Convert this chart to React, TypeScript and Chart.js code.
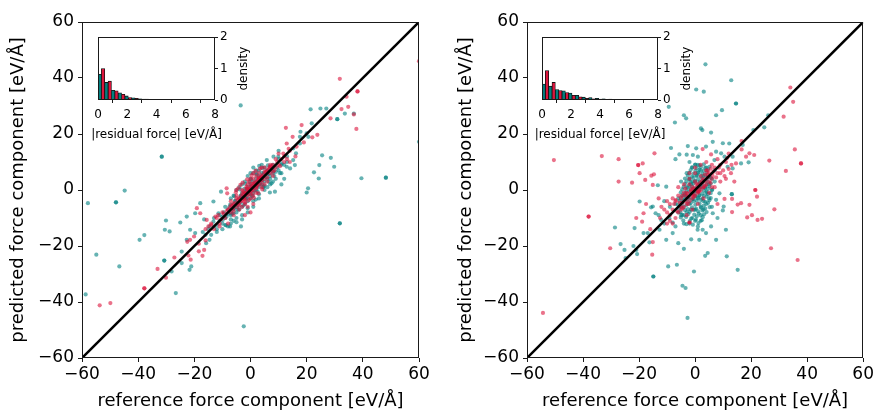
import { useEffect, useRef } from 'react';
import { Chart, registerables } from 'chart.js';

Chart.register(...registerables);

// ---------------- data ----------------
const axisTicks = [-60, -40, -20, 0, 20, 40, 60];
const xTitle = 'reference force component [eV/Å]';
const yTitle = 'predicted force component [eV/Å]';
const insetXTitle = '|residual force| [eV/Å]';
const insetYTitle = 'density';

// left panel, teal series
const leftTeal: [number, number][] = [
  [-31.6, 11.9], [-31.6, 11.9], [-57.9, -4.7], [-47.9, -4.4], [-47.9, -4.4], [-44.8, -0.2],
  [-54.9, -23.1], [-46.7, -27.3], [-58.7, -37.3], [-39.5, -17.8], [-37.8, -16.1], [-30.1, -10.9],
  [-30.5, -14.2], [-28.8, -14.8], [-30.7, -25.2], [-30.7, -25.2], [-26.6, -36.8], [-28.1, -29.1],
  [-24.5, -26.1], [-25, -11.6], [-3.5, 30.2], [-2.4, -48.7], [48.2, 4.4], [48.2, 4.4],
  [31.8, -11.9], [31.8, -11.9], [39.5, 4.2], [28.6, 11.5], [29.8, 8.3], [25.5, 12.4],
  [24.5, 8.9], [22.6, 6.3], [24.3, 4.1], [20.5, 0.6], [20, -0.9], [30.9, 25.3], [30.9, 25.3],
  [33.6, 27.3], [36.8, 27.3], [21.4, 28.8], [24.9, 29.1], [27, 29.1], [16.2, 13.1], [15.8, 8.9],
  [17.8, 20.8], [17.6, 19], [20, 20.2], [20.6, 19], [60, 17.2], [21.8, 23.8],
  [-19.7, -8.3], [-17.9, -4.7], [-14.6, -13], [-13.2, -11.3], [-11.4, -8.3], [-9.9, -10.7],
  [-8.7, -12.6], [-7.3, -13], [-6.1, -8.3], [-3.4, -13], [-14.6, -17.8], [-15.8, -19],
  [-22.7, -17.8], [-21.1, -27.3], [-21.7, -28.5], [-24.5, -22], [-21.5, -14.2], [-19.7, -15.4],
  [-22.7, -9.5], [-13.2, -4.1], [-10.5, -0.6], [-16.5, -10.5], [-12, -15], [-10, -14],
  [5.8, 10.7], [8.2, 11.9], [9.9, 11.9], [11.1, 9.5], [12.9, 8.3], [14.1, 7.7], [8.2, 6.6],
  [10.5, 6], [7.5, 2.4], [6.9, -0.9], [4.6, 1.2], [8.7, -0.6], [15.2, 10.7], [17.6, 16.6],
  [15.2, 14.9], [2.2, 5.4], [12, 4], [11, 2], [13, 12], [10, 14],
  [-9, -10], [-8, -7], [-7, -9], [-6, -5], [-5, -8], [-4, -3], [-3, -6], [-2, -1], [-1, -4],
  [0, 2], [1, -1], [2, 4], [3, 1], [4, 6], [5, 3], [6, 7], [7, 5], [8, 9], [-10, -12],
  [-11, -9], [-6, -11], [-4, -7], [-2, -5], [0, -3], [2, 0], [4, 2], [6, 4], [8, 6],
  [-3, 2], [-1, 5], [1, 6], [3, 7], [-5, 0], [-7, -3], [0, 4], [2, 7], [4, 9], [5, 8],
  [-8, -13], [-12, -14], [-13, -10], [-14, -16], [-3, -9], [-1, -8], [1, -6], [3, -3],
  [5, 0], [7, 2], [9, 4], [10, 7], [11, 9], [-2, 3], [-4, 1], [-6, -2], [1, 3], [3, 5],
  [-0.5, -1.5], [0.5, 0.5], [1.5, 2.5], [-1.5, -0.5], [2.5, 1.5], [-2.5, -2.5], [3.5, 4.5],
  [-3.5, -4.5], [4.5, 5.5], [-4.5, -5.5], [0, 6], [1, 8], [-1, 1], [-3, -1], [6, 1], [8, 3],
  [-9, -6], [-7, -12], [-5, -10], [-1.2, -2.7], [0.8, -2.2], [2.7, 2.8], [-2.2, 0.4],
  [4.2, 3.6], [-5.4, -3.8], [6.6, 5.8], [-6.8, -7.1], [1.9, -3.4], [-0.3, 2.9], [3.1, 8.6],
  [-9.5, -8], [-8.5, -9.5], [-7.5, -6], [-6.5, -8.5], [-5.5, -4], [-4.5, -7], [-3.5, -2],
  [-2.5, -5.5], [-1.5, -3], [-0.5, 0], [0.5, -2], [1.5, 1], [2.5, -0.5], [3.5, 2.5], [4.5, 1],
  [5.5, 4.5], [6.5, 3], [7.5, 7], [8.5, 5], [9.5, 8], [-9, -12.5], [-7, -10.5], [-5, -11.5],
  [-3, -10.5], [-1, -6.5], [1, -4], [3, -1.5], [5, 1.5], [7, 4], [9, 6.5], [11, 6], [12, 9],
  [13, 10], [10, 11], [-6, -6.5], [-4, -4.5], [-2, -2.5], [0, -0.5], [2, 1.5], [4, 3.5],
  [6, 5.5], [8, 7.5], [-8, -8.5], [-10, -9.5], [-5.8, -2.2], [-3.8, 0.2], [-1.8, 2.2],
  [0.2, 3.8], [2.2, 5.8], [4.2, 7.8], [6.2, 8.8], [-7.2, -5.2], [-11, -11], [-12, -12.5],
  [-13, -13], [-15, -14], [-16, -16], [-17, -15], [0.7, 0.9], [-0.9, -0.7], [1.3, -0.2],
  [-1.3, 0.2], [0.2, 1.4], [-0.2, -1.4], [2.1, 2.9], [-2.1, -2.9], [3.3, 2.1], [-3.3, -2.1],
  [4.8, 6.2], [-4.8, -6.2], [5.9, 6.8], [-5.9, -6.8], [7.1, 8.4], [-7.1, -8.4],
];

// left panel, red series
const leftRed: [number, number][] = [
  [31.8, 39.7], [38.1, 35.2], [38.1, 35.2], [34.2, 33.3], [36.8, 27], [37.7, 21.8], [34.8, 29.7],
  [28.5, 25.6], [32.4, 28.9], [22, 18.8], [23.8, 19.7], [12.6, 22.2], [18.2, 23.2], [12.9, 16.6],
  [13.6, 14.7], [11.7, 13], [16.4, 15.5], [60, 46], [-53.7, -41.2], [-49.9, -40.4], [-37.8, -35.1],
  [-37.8, -35.1], [-33.1, -28.2], [-30.1, -31.3], [-27.1, -24.1], [-22.1, -23.4], [-21.3, -24.9],
  [-21.5, -17.8], [-20.1, -16.6], [-18.4, -19.2], [-17.1, -23.5], [-18.4, -21.9], [-16.5, -21.4],
  [-19.1, -6.5], [-17.9, -8.3], [-15.6, -10.7], [-8.5, 0.6], [-8.3, -1.2], [-5.1, 0],
  [-22.5, -18.5], [-14, -12.5], [-12.5, -9.5], [-11, -13], [-16, -14], [14, 10], [16, 12],
  [19, 17], [15, 19], [10, 13],
  [-8, -7], [-7, -8], [-6, -5], [-5, -6], [-4, -3], [-3, -4], [-2, -1], [-1, -2], [0, 1],
  [1, 0], [2, 3], [3, 2], [4, 5], [5, 4], [6, 7], [7, 6], [8, 9], [9, 8], [-6, -9], [-4, -7],
  [-2, -5], [0, -3], [2, -1], [4, 1], [6, 3], [-5, -2], [-3, 0], [-1, 2], [1, 4], [3, 6],
  [5, 8], [-9, -10], [-10, -8], [-11, -12], [-12, -10], [-13, -14], [-14, -12], [-1, -6],
  [1, -5], [0, -8], [-2, -9], [2, 5], [4, 8], [7, 9], [10, 9], [11, 11], [12, 12],
  [-1.5, 0.5], [0.5, -0.5], [1.5, 1.5], [2.5, 2.5], [-2.5, -1.5], [3.5, 3.5], [0, 4],
  [-0.5, 3], [1, 6], [-3, -6], [5, 2], [8, 5], [9, 11], [-7, -4], [-15, -13], [-16, -18],
  [-8, -12], [-0.8, -0.3], [0.3, 2.2], [2.2, 1.1], [-2.1, -3.2], [3.8, 4.6], [-4.3, -4.9],
  [5.6, 6.3], [6.8, 8.2], [-6.2, -6.6], [0.9, -1.8], [-1.4, 1.2], [2.9, 4.1],
  [-8.5, -7.5], [-7.5, -6.5], [-6.5, -5.5], [-5.5, -4.5], [-4.5, -3.5], [-3.5, -2.5],
  [-2.5, -0.5], [-1.5, -1.5], [-0.5, 0.5], [0.5, 1.5], [1.5, 2.5], [2.5, 3.5], [3.5, 4.5],
  [4.5, 5.5], [5.5, 6.5], [6.5, 7.5], [7.5, 8.5], [8.5, 7], [-7, -5.5], [-5, -3], [-3, -1.5],
  [-1, 0.5], [1, 2.5], [3, 4.5], [5, 6.5], [7, 8], [-6, -7.5], [-4, -5.5], [-2, -3.5],
  [0, -1.5], [2, 0.5], [4, 2.5], [6, 4.5], [8, 6.5], [-1.2, 3.8], [0.4, 5.2], [-3.6, 1.8],
  [-5.2, -0.8], [-2.8, 2.6], [1.8, 6.8], [3.4, 7.6], [-4.4, 0.6], [-0.6, -3.6], [1.2, -2.8],
  [2.8, -1.2], [-1.8, -4.4], [4.2, 0.2], [0.1, 0.1], [-0.3, -0.7], [0.9, 0.6], [-0.8, -0.2],
  [1.4, 1.9], [-1.6, -1.1], [2.3, 1.7], [-2.3, -2.6], [3.1, 3.9], [-3.2, -3.7], [4.1, 3.6],
  [-4.1, -4.4], [-9.5, -8.5], [-10.5, -10.5], [-11.5, -9], [9.5, 10], [10.5, 8.5], [13, 11],
  [14, 14], [12, 10],
];

// right panel, teal series
const rightTeal: [number, number][] = [
  [3.7, 44.9], [12.9, 39.2], [14.6, 30.9], [14.6, 30.9], [0.4, 35.9], [3.1, 35.1], [-9.4, 29.7],
  [-4, 26.7], [-3.2, 25.6], [-7.2, 24.1], [7.5, 26.7], [9.6, 28.5], [2.1, 22], [2.6, 21.4],
  [5.7, 20.5], [9.9, 16.7], [-8.6, 15], [-2.6, 15.7], [-3, 12.6], [-7, 11], [-5.6, 12.7],
  [17, 16.1], [24.7, 22.4], [20.8, 21.4], [19.1, 9.9], [26.1, 26.7], [-28.6, -13.4],
  [-26.6, -19.3], [-21.6, -13.6], [-24.8, -24.3], [-21, -21.4], [-20.7, -22.9], [-16.3, -18.7],
  [-14.9, -30.9], [-14.9, -30.9], [-9.6, -27.3], [-6.5, -26.7], [-4.5, -34.2], [-3.4, -35],
  [-2.7, -45.7], [-0.4, -29.1], [3.6, -23.5], [4.5, -22.5], [11.3, -23.7], [15.2, -28.5],
  [7.5, -17.8], [11, -14.2], [9.9, -7.3], [13.1, -1.5], [13.1, -1.5], [-13.3, 1.7], [-10.3, 1.2],
  [1.5, -17.8], [-1.4, -17.6], [0.9, -14.2], [-15.1, -5.9], [-14.1, -8.3], [-12.1, -10.7],
  [-19.8, -4.1], [-15.7, -6.2], [-18.4, -15.4], [-16.9, -15.4], [-12.7, -14.2], [-9.2, -10.1],
  [-10.3, -17.8], [-8, -11.6], [-8, -15.4], [7.5, -3.5], [8.7, -1.2], [10.2, -5.9], [6.3, -8.3],
  [5.7, -13], [3.9, -15.4], [2.7, -14.2], [7.5, 13.7], [9.3, 13.1], [10.5, 11.9], [6.9, 10.7],
  [5.1, 8.3], [11.6, 8.3], [13.4, 7.7], [0.4, 14.9], [-0.8, 12.5], [1, 11.9], [3.9, 15.5],
  [6.3, 17.2], [12.2, 16.6], [13.4, 11.9], [16.4, 9.5], [-25.2, -21.4], [-22, -20],
  [-11, -12], [-13, -9], [-9, -6], [-7, -13], [-11, -4], [-6, -19], [-4, -21], [8, -10],
  [-4, -2], [-3, -8], [-2, -5], [-1, -10], [0, -7], [1, -3], [2, -9], [3, -4], [4, -1],
  [-5, -6], [-4, -9], [-3, 1], [-2, 4], [-1, -1], [0, 3], [1, 6], [2, 1], [3, 5], [4, 8],
  [5, 2], [-6, -3], [-5, 3], [-3, 6], [-1, 8], [1, 9], [2, 7], [3, -7], [5, -3], [6, 4],
  [-2, -12], [0, -11], [1, -13], [-4, -12], [-5, -9], [2, -6], [4, -5], [6, 0], [7, 3],
  [-0.5, 0.5], [0.5, -0.5], [-1.5, 2], [1.5, -2], [-2.5, -3], [2.5, 3], [-0.5, -4],
  [0.5, 5], [-1.5, -7], [1.5, 2.5], [-3.5, -1.5], [3.5, 1], [-4.5, -4], [4.5, 4.5],
  [-2, 10], [0, 9], [2, -11], [-6, -8], [6, -6], [-7, -5], [7, 7], [0, -2], [-1, 3],
  [-3.1, -12.2], [-0.8, -12.4], [1.2, -11.8], [-4.2, -10.9], [-1.9, -11.1], [0.3, -10.6],
  [2.4, -10.8], [-5.1, -9.8], [-3.2, -9.6], [-1.4, -10.2], [0.6, -9.4], [2.7, -9.7],
  [-4.6, -8.9], [-2.4, -8.6], [-0.3, -8.8], [1.3, -8.4], [3.2, -8.7], [-5.2, -7.9],
  [-3.6, -7.2], [-1.9, -7.8], [-0.4, -7.1], [1.1, -7.6], [2.6, -7.3], [4.1, -7.9],
  [-5.7, -6.6], [-4.1, -6.1], [-2.6, -6.8], [-1.1, -6.2], [0.4, -6.7], [2.1, -6.3],
  [3.6, -6.6], [5.2, -6.1], [-6.1, -5.2], [-4.6, -4.8], [-3.1, -5.4], [-1.6, -4.7],
  [0.1, -5.3], [1.6, -4.9], [3.1, -5.6], [4.6, -4.6], [-5.6, -3.9], [-4.1, -3.6],
  [-2.6, -4.1], [-1.1, -3.4], [0.6, -3.9], [2.1, -3.5], [3.6, -4.2], [5.1, -3.7],
  [-5.1, -2.8], [-3.6, -3.1], [-2.1, -2.6], [-0.6, -3.2], [1.1, -2.7], [2.6, -3.1],
  [4.1, -2.4], [5.6, -2.9], [-4.6, -1.9], [-3.1, -2.2], [-1.6, -1.6], [0.1, -2.3],
  [1.6, -1.8], [3.1, -2.1], [4.6, -1.5], [-5.1, -0.8], [-3.6, -1.1], [-2.1, -0.6],
  [-0.6, -1.2], [1.1, -0.7], [2.6, -1.3], [4.1, -0.6], [5.6, -1.1], [-4.6, 0.2],
  [-3.1, -0.2], [-1.6, 0.4], [0.1, -0.3], [1.6, 0.3], [3.1, -0.1], [4.6, 0.4], [6.1, 0.1],
  [-4.1, 1.1], [-2.6, 0.8], [-1.1, 1.3], [0.6, 0.9], [2.1, 1.2], [3.6, 0.7], [5.1, 1.3],
  [-3.6, 2.2], [-2.1, 1.8], [-0.6, 2.3], [1.1, 1.7], [2.6, 2.2], [4.1, 1.9], [5.6, 2.4],
  [-3.1, 3.1], [-1.6, 2.8], [0.1, 3.3], [1.6, 2.9], [3.1, 3.2], [4.6, 2.8], [-3.6, 4.1],
  [-2.1, 3.8], [-0.6, 4.3], [1.1, 3.9], [2.6, 4.2], [4.1, 3.8], [5.6, 4.3], [-2.6, 5.1],
  [-1.1, 4.8], [0.6, 5.3], [2.1, 4.9], [3.6, 5.2], [5.1, 4.8], [-2.1, 6.1], [-0.6, 5.8],
  [1.1, 6.3], [2.6, 5.9], [4.1, 6.2], [-1.6, 7.1], [0.1, 6.8], [1.6, 7.2], [3.1, 6.9],
  [4.6, 7.3], [-1.1, 8.1], [0.6, 7.8], [2.1, 8.2], [3.6, 7.9], [0.1, 9.1], [1.6, 8.8],
  [3.1, 9.2],
];

// right panel, red series
const rightRed: [number, number][] = [
  [-54.3, -43.9], [-50.4, 10.7], [-33.3, 12.1], [-27.3, 11], [-27.3, 3], [-38, -9.5], [-38, -9.5],
  [-30.3, -20.8], [-22.5, 2.6], [-20.3, 8.9], [-20.3, 8.9], [-19.8, 6], [-17.8, 3.6], [-18.7, 9.5],
  [-15.6, 5.1], [-14.7, 5.6], [-14.5, 13.1], [-15.1, 1.8], [-18.9, -11.3], [-18.4, -8.3],
  [-17.5, -5], [-15.3, -23.1], [-15.1, -18.6], [34, 36.6], [35, 31.5], [31.6, 26.2],
  [32.4, 6.8], [35.6, 14.5], [37.8, 9.5], [37.8, 9.5], [36.6, -25], [26.5, 10.5], [28.3, -6.9],
  [27.1, -20.8], [21.5, 0], [21.5, 0], [22.1, -2.4], [20.3, -9], [18.6, -9.8], [22.3, -10.7],
  [23.9, -10.3], [19.4, -5.3], [16.4, -4.7], [15.2, -5.2], [13.2, -7.9], [13.2, -3.2],
  [10.5, -3.2], [16.6, 14.5], [19.4, 13.1], [21.1, 12.5], [14.6, 9.5], [12.8, 6], [18.2, 11.9],
  [16.6, 17.5], [2.7, 14.6], [5.7, 12.7], [-2, -11.6], [-2, -11.6], [-12, -6], [-10, -8],
  [-13, -3], [-21, -10], [-16, -14], [-9, -11], [11, 4], [9, 6], [14, 3], [8, -5],
  [-8, -7], [-7, -4], [-6, -8], [-5, -3], [-4, -6], [-3, -1], [-2, -4], [-1, 1], [0, -2],
  [1, 2], [2, 0], [3, 4], [4, 2], [5, 6], [6, 4], [7, 8], [8, 6], [-6, -2], [-4, -1],
  [-2, 2], [0, 3], [2, 5], [4, 7], [-5, -7], [-3, -5], [-1, -3], [1, -1], [3, 1], [5, 3],
  [-9, -5], [-7, -10], [9, 9], [10, 7], [6, 9], [-1.5, -0.5], [0.5, 0.5], [1.5, 1], [-0.5, -1.5],
  [2.5, 2.5], [-2.5, -2.5], [-3.5, 0.5], [3.5, 5.5], [-4.5, -4.5], [4.5, 4.5], [0, 6],
  [-2, 4], [6, 1], [-8, -12], [-10, -4], [11, 10], [12, 13], [-0.8, 0.2], [1.2, -0.4],
  [-7.5, -5], [-6.5, -7.5], [-5.5, -4.5], [-4.5, -6.5], [-3.5, -2], [-2.5, -5], [-1.5, 0],
  [-0.5, -2.5], [0.5, 2], [1.5, -0.5], [2.5, 3.5], [3.5, 1.5], [4.5, 5.5], [5.5, 2.5],
  [6.5, 6.5], [7.5, 4.5], [8.5, 8], [-6, 1], [-4, 2], [-2, 6], [0, 8], [2, 9], [4, 10],
  [-8, -3], [-9, -9], [-3, -9], [-1, -7], [1, -5], [3, -3], [5, -1], [7, 1], [9, 3],
  [-0.2, 0.7], [0.8, -0.6], [-1.1, -1.9], [1.9, 2.6], [-2.7, -1.3], [2.9, 0.9], [-3.3, -3.9],
  [3.7, 3.2], [-4.6, -2.1], [4.4, 6.9], [-5.4, -5.8], [5.6, 7.6], [6.2, 5.1], [-6.9, -3.6],
  [10.5, 5], [12, 7.5], [-11, -7], [-12.5, -10], [8, 11], [-10, -12], [11.5, 11.5], [13, 9],
];

// inset histograms (bin centres in eV/Å, densities)
const binCenters = [0.23, 0.69, 1.15, 1.61, 2.07, 2.53, 2.99, 3.45, 3.91, 4.37, 4.83, 5.29, 5.75, 6.21, 6.67, 7.13, 7.59];
const leftTealHist = [0.82, 0.56, 0.31, 0.23, 0.13, 0.07, 0.04, 0.03, 0.02, 0.015, 0.012, 0.01, 0.008, 0.007, 0.006, 0.005, 0.005];
const leftRedHist = [1.0, 0.6, 0.29, 0.18, 0.08, 0.05, 0.03, 0.02, 0.015, 0.01, 0.008, 0.006, 0.005, 0.004, 0.004, 0.003, 0.003];
const rightTealHist = [0.51, 0.44, 0.33, 0.29, 0.22, 0.15, 0.09, 0.08, 0.05, 0.04, 0.03, 0.025, 0.02, 0.02, 0.015, 0.015, 0.01];
const rightRedHist = [0.94, 0.56, 0.3, 0.24, 0.15, 0.1, 0.05, 0.04, 0.03, 0.02, 0.015, 0.012, 0.01, 0.008, 0.006, 0.005, 0.004];

// ---------------- styling ----------------
const FONT = 'DejaVu Sans';
const TEAL_PT = 'rgba(0,128,128,0.6)';
const RED_PT = 'rgba(220,20,60,0.6)';
const TEAL = '#008080';
const RED = '#dc143c';
const INK = '#1a1a1a';

const minusFmt = (v: any) => String(v).replace('-', '\u2212');

const boxPlugin = {
  id: 'boxFrame',
  beforeDraw(chart: any, _a: any, opts: any) {
    if (!opts || !opts.white) return;
    const { ctx, chartArea: c } = chart;
    ctx.save();
    ctx.fillStyle = '#ffffff';
    ctx.fillRect(c.left, c.top, c.right - c.left, c.bottom - c.top);
    ctx.restore();
  },
  afterDraw(chart: any, _a: any, opts: any) {
    const { ctx, chartArea: c } = chart;
    ctx.save();
    ctx.strokeStyle = INK;
    ctx.lineWidth = 1;
    const l = Math.round(c.left) + 0.5;
    const t = Math.round(c.top) + 0.5;
    const r = Math.round(c.right) - 0.5;
    const b = Math.round(c.bottom) - 0.5;
    ctx.strokeRect(l, t, r - l, b - t);
    if (opts && opts.xLabel) {
      ctx.fillStyle = '#000';
      ctx.font = `12px "${FONT}"`;
      ctx.textAlign = 'center';
      ctx.textBaseline = 'middle';
      ctx.fillText(opts.xLabel, (c.left + c.right) / 2, c.bottom + 35);
    }
    if (opts && opts.yLabel) {
      ctx.save();
      ctx.translate(c.right + 28.5, (c.top + c.bottom) / 2);
      ctx.rotate(-Math.PI / 2);
      ctx.fillStyle = '#000';
      ctx.font = `12px "${FONT}"`;
      ctx.textAlign = 'center';
      ctx.textBaseline = 'middle';
      ctx.fillText(opts.yLabel, 0, 0);
      ctx.restore();
    }
    ctx.restore();
  },
};

function mainConfig(teal: [number, number][], red: [number, number][], yW: number, padR: number, yTitlePad: number): any {
  return {
    type: 'scatter',
    data: {
      datasets: [
        {
          type: 'line',
          data: [{ x: -60, y: -60 }, { x: 60, y: 60 }],
          borderColor: '#000',
          borderWidth: 2.5,
          pointRadius: 0,
          order: 0,
        },
        {
          data: red.map(([x, y]) => ({ x, y })),
          backgroundColor: RED_PT,
          borderWidth: 0,
          pointRadius: 2.1,
          order: 1,
        },
        {
          data: teal.map(([x, y]) => ({ x, y })),
          backgroundColor: TEAL_PT,
          borderWidth: 0,
          pointRadius: 2.1,
          order: 2,
        },
      ],
    },
    options: {
      animation: false,
      responsive: false,
      events: [],
      layout: { padding: { left: 0, right: padR, top: 22, bottom: 0 } },
      plugins: { legend: { display: false }, tooltip: { enabled: false }, boxFrame: { white: false } },
      scales: {
        x: {
          type: 'linear',
          min: -60,
          max: 60,
          afterBuildTicks: (s: any) => { s.ticks = axisTicks.map((v) => ({ value: v })); },
          afterFit: (s: any) => { s.height = 52; },
          border: { display: false },
          grid: { drawOnChartArea: false, drawTicks: true, tickLength: 4, color: INK, tickWidth: 1 },
          ticks: { color: '#000', font: { family: FONT, size: 17 }, padding: 2, maxRotation: 0, callback: minusFmt },
          title: { display: true, text: xTitle, color: '#000', font: { family: FONT, size: 18, lineHeight: 1.0 }, padding: { top: 0, bottom: 0 } },
        },
        y: {
          type: 'linear',
          min: -60,
          max: 60,
          afterBuildTicks: (s: any) => { s.ticks = axisTicks.map((v) => ({ value: v })); },
          afterFit: (s: any) => { s.width = yW; },
          border: { display: false },
          grid: { drawOnChartArea: false, drawTicks: true, tickLength: 4, color: INK, tickWidth: 1 },
          ticks: { color: '#000', font: { family: FONT, size: 17 }, padding: 4, callback: minusFmt },
          title: { display: true, text: yTitle, color: '#000', font: { family: FONT, size: 18, lineHeight: 1.2 }, padding: { top: yTitlePad, bottom: 0 } },
        },
      },
    },
    plugins: [boxPlugin],
  };
}

function insetConfig(tealH: number[], redH: number[], padR: number): any {
  return {
    type: 'bar',
    data: {
      datasets: [
        {
          data: binCenters.map((x, i) => ({ x, y: tealH[i] })),
          backgroundColor: TEAL,
          borderColor: '#111',
          borderWidth: 0.8,
          barPercentage: 1,
          categoryPercentage: 1,
        },
        {
          data: binCenters.map((x, i) => ({ x, y: redH[i] })),
          backgroundColor: RED,
          borderColor: '#111',
          borderWidth: 0.8,
          barPercentage: 1,
          categoryPercentage: 1,
        },
      ],
    },
    options: {
      animation: false,
      responsive: false,
      events: [],
      layout: { padding: { left: 18, right: padR, top: 7, bottom: 5 } },
      plugins: {
        legend: { display: false },
        tooltip: { enabled: false },
        boxFrame: { white: true, xLabel: insetXTitle, yLabel: insetYTitle },
      },
      scales: {
        x: {
          type: 'linear',
          min: 0,
          max: 8,
          offset: false,
          afterFit: (s: any) => { s.height = 43; },
          border: { display: false },
          grid: { drawOnChartArea: false, drawTicks: true, tickLength: 3, color: INK },
          ticks: { stepSize: 2, color: '#000', font: { family: FONT, size: 12 }, padding: 5, maxRotation: 0 },
        },
        y: {
          type: 'linear',
          position: 'right',
          min: 0,
          max: 2,
          afterFit: (s: any) => { s.width = 35; },
          border: { display: false },
          grid: { drawOnChartArea: false, drawTicks: true, tickLength: 3, color: INK },
          ticks: { stepSize: 1, color: '#000', font: { family: FONT, size: 12 }, padding: 2 },
        },
      },
    },
    plugins: [boxPlugin],
  };
}

function ChartCanvas({ config, left, top, width, height }: { config: any; left: number; top: number; width: number; height: number }) {
  const ref = useRef<HTMLCanvasElement | null>(null);
  useEffect(() => {
    if (!ref.current) return;
    const chart = new Chart(ref.current, config);
    return () => chart.destroy();
  }, [config]);
  return (
    <canvas
      ref={ref}
      width={width}
      height={height}
      style={{ position: 'absolute', left, top, width, height }}
    />
  );
}

const leftMain = mainConfig(leftTeal, leftRed, 82, 19, 8);
const rightMain = mainConfig(rightTeal, rightRed, 89, 12, 18);
const leftInset = insetConfig(leftTealHist, leftRedHist, 5);
const rightInset = insetConfig(rightTealHist, rightRedHist, 6);

export default function App() {
  return (
    <div style={{ position: 'fixed', left: 0, top: 0, width: 876, height: 410, background: '#fff', overflow: 'hidden' }}>
      <ChartCanvas config={leftMain} left={0} top={0} width={438} height={410} />
      <ChartCanvas config={rightMain} left={438} top={0} width={438} height={410} />
      <ChartCanvas config={leftInset} left={80} top={28} width={175} height={120} />
      <ChartCanvas config={rightInset} left={524} top={28} width={175} height={120} />
    </div>
  );
}
